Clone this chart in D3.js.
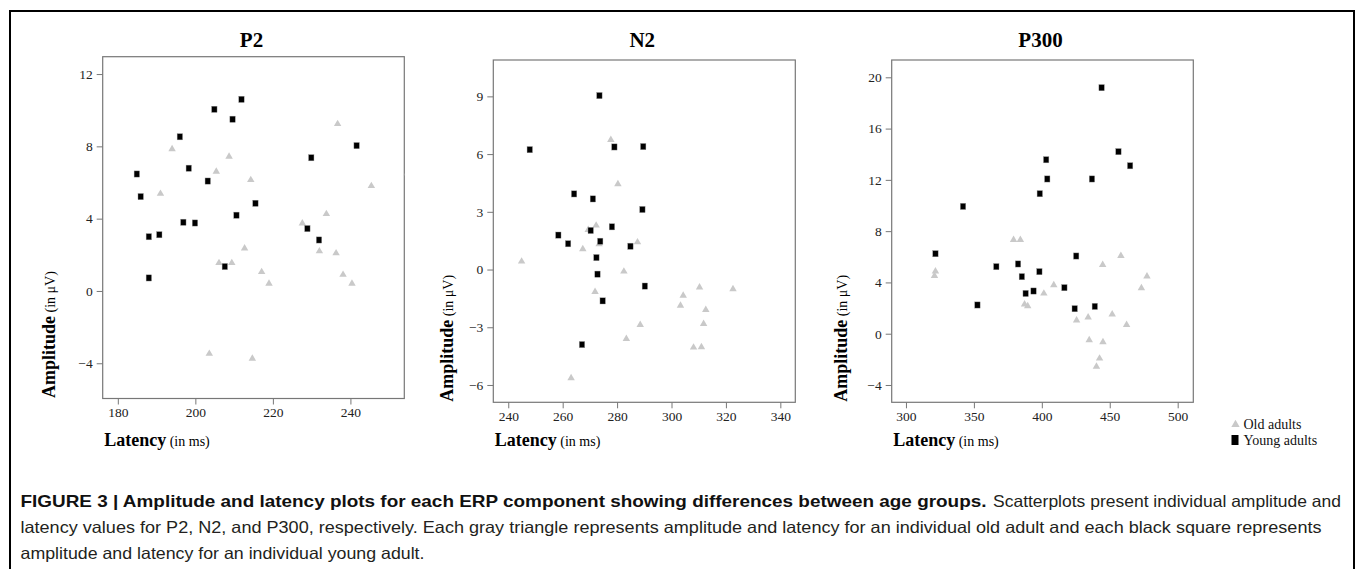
<!DOCTYPE html>
<html lang="en">
<head>
<meta charset="utf-8">
<title>Amplitude and latency plots</title>
<script src="https://cdn.jsdelivr.net/npm/d3@7/dist/d3.min.js"></script>
<style>
  body { margin: 0; background: #fff; }
  .serif { font-family: "Liberation Serif", "Times New Roman", serif; }
  .axis text { font-family: "Liberation Serif", "Times New Roman", serif; font-size: 13.5px; fill: #222; }
  .axis line { stroke: #777; }
  .axis path { display: none; }
  .box { fill: none; stroke: #777; stroke-width: 1.2; }
</style>
</head>
<body>
<div id="chart"></div>
<script>
// ---- data: [latency (ms), amplitude (uV)] ----
var p2Old = [[194.0,7.85],[191.0,5.38],[205.4,6.6],[208.7,7.43],[206.1,1.55],[209.4,1.55],
  [212.7,2.36],[214.3,6.14],[217.1,1.05],[219.0,0.41],[203.6,-3.47],[214.7,-3.74],
  [227.6,3.74],[233.8,4.26],[232.0,2.2],[236.3,2.09],[236.7,9.24],[238.1,0.9],
  [240.4,0.41],[245.4,5.81],[254.6,6.5]];
var p2Young = [[184.9,6.47],[185.9,5.22],[188.0,3.0],[188.0,0.72],[190.7,3.11],[196.0,8.53],
  [196.9,3.8],[198.3,6.79],[199.9,3.76],[203.2,6.08],[204.9,10.05],[207.6,1.35],
  [209.6,9.5],[210.6,4.19],[211.9,10.6],[215.5,4.85],[228.9,3.45],[229.9,7.37],
  [231.9,2.82],[241.6,8.04]];

var n2Old = [[244.9,0.42],[263.1,-5.64],[277.7,6.74],[280.3,4.44],[272.3,2.29],[269.4,2.06],
  [267.4,1.06],[273.4,1.32],[287.5,1.42],[282.5,-0.1],[271.9,-1.16],[283.4,-3.6],
  [288.5,-2.87],[303.3,-1.87],[304.3,-1.35],[310.3,-0.92],[312.6,-2.09],[311.8,-2.82],
  [308.1,-4.05],[311.0,-4.03],[322.6,-1.02]];
var n2Young = [[273.5,9.04],[247.9,6.23],[279.0,6.37],[289.6,6.39],[264.2,3.93],[271.1,3.67],
  [289.3,3.12],[258.4,1.79],[262.0,1.34],[270.3,2.03],[278.1,2.22],[273.8,1.47],
  [284.9,1.21],[272.4,0.62],[272.8,-0.24],[290.2,-0.86],[274.7,-1.63],[267.1,-3.9]];

var p300Old = [[321.7,4.86],[321.0,4.52],[379.2,7.33],[384.2,7.33],[387.3,2.29],[389.6,2.16],
  [401.5,3.14],[408.8,3.8],[425.6,1.04],[434.1,1.28],[444.8,5.38],[458.2,6.08],
  [451.8,1.51],[462.4,0.7],[473.3,3.56],[477.4,4.47],[434.9,-0.49],[445.0,-0.65],
  [442.5,-1.93],[440.2,-2.57]];
var p300Young = [[444.0,19.19],[456.4,14.2],[465.0,13.1],[403.2,13.57],[404.0,12.07],[436.9,12.07],
  [398.5,10.92],[342.0,9.93],[321.7,6.24],[425.3,6.06],[366.5,5.23],[382.5,5.44],
  [385.3,4.45],[398.2,4.84],[388.1,3.14],[393.9,3.33],[416.6,3.59],[352.6,2.24],
  [424.2,1.95],[439.0,2.13]];

var p2XTicks = [180, 200, 220, 240], p2YTicks = [12, 8, 4, 0, -4];
var n2XTicks = [240, 260, 280, 300, 320, 340], n2YTicks = [9, 6, 3, 0, -3, -6];
var p300XTicks = [300, 350, 400, 450, 500], p300YTicks = [20, 16, 12, 8, 4, 0, -4];

var legendLabels = ["Old adults", "Young adults"];

var captionBold = "FIGURE 3 | Amplitude and latency plots for each ERP component showing differences between age groups.";
var captionRest = ["Scatterplots present individual amplitude and",
  "latency values for P2, N2, and P300, respectively. Each gray triangle represents amplitude and latency for an individual old adult and each black square represents",
  "amplitude and latency for an individual young adult."];

// ---- layout ----
var W = 1359, H = 569;
var panels = [
  {title: "P2", old: p2Old, young: p2Young, xt: p2XTicks, yt: p2YTicks,
   xd: [176.1, 253.9], yd: [-5.95, 12.96], x0: 102.7, x1: 404.3, y0: 56.7, y1: 398.5, ylab: 55},
  {title: "N2", old: n2Old, young: n2Young, xt: n2XTicks, yt: n2YTicks,
   xd: [234.5, 345.5], yd: [-6.9, 10.89], x0: 493.3, x1: 795.3, y0: 60, y1: 402.3, ylab: 453},
  {title: "P300", old: p300Old, young: p300Young, xt: p300XTicks, yt: p300YTicks,
   xd: [289.5, 511.5], yd: [-5.35, 21.35], x0: 891.7, x1: 1193.3, y0: 60, y1: 402.3, ylab: 847}
];

var svg = d3.select("#chart").append("svg")
  .attr("width", W).attr("height", H);

// outer frame
svg.append("rect")
  .attr("x", 10).attr("y", 11).attr("width", 1344).attr("height", 600)
  .attr("fill", "none").attr("stroke", "#000").attr("stroke-width", 2);

var tri = d3.symbol().type(d3.symbolTriangle).size(24);

panels.forEach(function(p, i) {
  var x = d3.scaleLinear().domain(p.xd).range([p.x0, p.x1]);
  var y = d3.scaleLinear().domain(p.yd).range([p.y1, p.y0]);

  svg.append("clipPath").attr("id", "clip" + i)
    .append("rect").attr("x", p.x0).attr("y", p.y0)
    .attr("width", p.x1 - p.x0).attr("height", p.y1 - p.y0);

  svg.append("g").attr("class", "axis")
    .attr("transform", "translate(" + p.x0 + ",0)")
    .call(d3.axisLeft(y).tickValues(p.yt).tickSize(6).tickPadding(4));
  svg.append("g").attr("class", "axis")
    .attr("transform", "translate(0," + p.y1 + ")")
    .call(d3.axisBottom(x).tickValues(p.xt).tickSize(6).tickPadding(3));

  svg.append("rect").attr("class", "box")
    .attr("x", p.x0).attr("y", p.y0)
    .attr("width", p.x1 - p.x0).attr("height", p.y1 - p.y0);

  var g = svg.append("g").attr("clip-path", "url(#clip" + i + ")");
  g.selectAll(".old").data(p.old).enter().append("path")
    .attr("class", "old")
    .attr("d", tri)
    .attr("transform", function(d) { return "translate(" + x(d[0]) + "," + y(d[1]) + ")"; })
    .attr("fill", "#c9c9c9");
  g.selectAll(".young").data(p.young).enter().append("rect")
    .attr("class", "young")
    .attr("x", function(d) { return x(d[0]) - 2.7; })
    .attr("y", function(d) { return y(d[1]) - 3.1; })
    .attr("width", 5.4).attr("height", 6.2)
    .attr("fill", "#000").attr("stroke", "#999").attr("stroke-width", 0.4);

  // title
  svg.append("text").attr("class", "serif")
    .attr("x", (p.x0 + p.x1) / 2 - 2).attr("y", 46.5)
    .attr("text-anchor", "middle")
    .style("font-size", "21px").style("font-weight", "bold")
    .text(p.title);

  // x label
  var xl = svg.append("text").attr("class", "serif")
    .attr("x", p.x0 + 1.5).attr("y", 445.5);
  xl.append("tspan").style("font-size", "18px").style("font-weight", "bold").text("Latency");
  xl.append("tspan").style("font-size", "14px").text(" (in ms)");

  // y label
  var yl = svg.append("text").attr("class", "serif")
    .attr("transform", "translate(" + p.ylab + "," + (p.y1 - 0.5) + ") rotate(-90)");
  yl.append("tspan").style("font-size", "18px").style("font-weight", "bold").text("Amplitude");
  yl.append("tspan").style("font-size", "14px").text(" (in \u03bcV)");
});

// legend
var leg = svg.append("g").attr("class", "serif");
leg.append("path")
  .attr("d", d3.symbol().type(d3.symbolTriangle).size(30))
  .attr("transform", "translate(1235.5,424.5)")
  .attr("fill", "#c9c9c9");
leg.append("rect")
  .attr("x", 1231.5).attr("y", 435).attr("width", 7).attr("height", 10)
  .attr("fill", "#000");
leg.selectAll(".ltext").data(legendLabels).enter().append("text")
  .attr("class", "ltext")
  .attr("x", 1243.5)
  .attr("y", function(d, i) { return 429 + i * 15.5; })
  .style("font-size", "14px").style("fill", "#111")
  .text(function(d) { return d; });

// caption: each run squeezed to the width it takes in the figure
var cap = svg.append("g")
  .style("font-family", "'Liberation Sans', Arial, Helvetica, sans-serif")
  .style("font-size", "16.5px")
  .style("fill", "#231f20");
var capRuns = [
  {t: captionBold, x: 20.5, y: 507, w: 966, bold: true},
  {t: captionRest[0], x: 993, y: 507, w: 348, bold: false},
  {t: captionRest[1], x: 20.5, y: 533, w: 1301, bold: false},
  {t: captionRest[2], x: 20.5, y: 559, w: 404, bold: false}
];
capRuns.forEach(function(r) {
  cap.append("text")
    .attr("x", r.x).attr("y", r.y)
    .attr("textLength", r.w).attr("lengthAdjust", "spacingAndGlyphs")
    .style("font-weight", r.bold ? "bold" : "normal")
    .style("fill", r.bold ? "#111" : "#231f20")
    .text(r.t);
});
</script>
</body>
</html>
